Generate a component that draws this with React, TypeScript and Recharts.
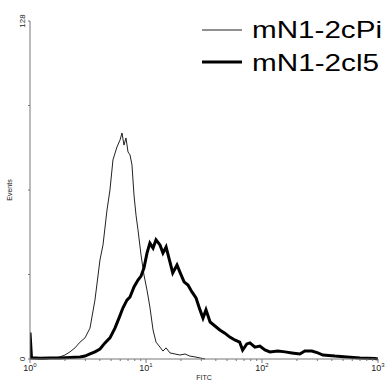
import React from 'react';
import { LineChart, Line, XAxis, YAxis } from 'recharts';

// FITC channel values and event counts
const fitcPi = [1, 1.35, 1.64, 1.81, 2.0, 2.21, 2.44, 2.7, 2.98, 3.29, 3.63, 4.01, 4.26, 4.61, 4.89, 5.19, 5.62, 5.97, 6.21, 6.46, 6.72, 7.0, 7.28, 7.57, 7.88, 8.2, 8.53, 9.06, 9.61, 10.2, 10.8, 11.5, 12.2, 13.2, 14.0, 14.9, 16.1, 17.8, 19.6, 21.7, 23.9, 26.4, 29.2, 32.3];
const countPi = [0, 0, 0.4, 0.8, 1.5, 2.7, 4.2, 6.4, 8.0, 11.7, 22.3, 37.5, 43.2, 56.4, 64, 75.4, 80.3, 82.9, 85.6, 81, 83.7, 78.4, 77.3, 73.5, 62.1, 54.5, 48.9, 39.4, 31.8, 26.1, 19.7, 11, 6.4, 4.5, 3.0, 4.2, 2.3, 1.9, 1.5, 1.9, 1.1, 0.8, 0.4, 0];

const fitcI5 = [1, 1.03, 1.22, 1.49, 1.81, 2.21, 2.7, 2.98, 3.29, 3.63, 4.01, 4.43, 4.89, 5.4, 5.85, 6.32, 6.85, 7.28, 7.88, 8.53, 9.06, 9.61, 10.2, 10.8, 11.5, 12.2, 13.2, 14.0, 14.9, 16.1, 17.0, 18.5, 19.6, 21.3, 23.0, 24.9, 27.0, 29.2, 31.0, 32.9, 35.7, 39.3, 43.3, 47.8, 52.8, 58.2, 64.2, 68.1, 74.0, 78.7, 86.9, 95.9, 106, 117, 137, 158, 181, 212, 234, 269, 303, 335, 425, 540, 699, 944, 1000];
const countI5 = [10, 0.5, 0.3, 0.4, 0.4, 0.6, 0.8, 1.1, 1.9, 2.7, 3.8, 6.1, 8.0, 11.7, 15.5, 19.3, 22.3, 23.5, 27.3, 29.9, 31.4, 34.5, 40.1, 43.9, 42.0, 45.1, 43.2, 40.1, 42.4, 36.7, 32.6, 35.6, 32.9, 29.2, 28.0, 25.4, 23.1, 18.6, 15.5, 18.6, 14.0, 12.5, 11.0, 9.8, 8.3, 7.2, 6.4, 3.4, 5.7, 6.1, 4.5, 4.9, 3.4, 2.7, 3.0, 2.7, 2.3, 1.9, 3.0, 3.0, 2.3, 1.5, 1.1, 0.8, 0.4, 0.2, 0];

const xTicks = [1, 2, 3, 4, 5, 6, 7, 8, 9, 10, 20, 30, 40, 50, 60, 70, 80, 90, 100, 200, 300, 400, 500, 600, 700, 800, 900, 1000];
const decades: Record<number, string> = { 1: '0', 10: '1', 100: '2', 1000: '3' };
const yTicks = [0, 32, 64, 96, 128];
const yLabels: Record<number, string> = { 0: '0', 128: '128' };

const seriesNames = ['mN1-2cPi', 'mN1-2cl5'];

const piData = fitcPi.map((x, i) => ({ x, y: countPi[i] }));
const i5Data = fitcI5.map((x, i) => ({ x, y: countI5[i] }));

const FONT = '"Liberation Sans", Arial, sans-serif';
const W = 386;
const H = 385;
const MARGIN = { top: 21, right: 8, bottom: 25, left: 29 };
const PLOT_LEFT = MARGIN.left + 1;
const PLOT_BOTTOM = H - MARGIN.bottom - 1;

function XTick(props: any) {
  const { payload } = props;
  const x = payload.coordinate;
  const y = PLOT_BOTTOM;
  const exp = decades[payload.value];
  return (
    <g>
      <line x1={x} x2={x} y1={y} y2={y + (exp ? 4 : 2)} stroke="#777" />
      {exp && (
        <text x={x} y={y + 12} textAnchor="middle" fontSize={9} fill="#222" fontFamily={FONT}>
          <tspan>10</tspan>
          <tspan dy={-4} fontSize={6}>{exp}</tspan>
        </text>
      )}
    </g>
  );
}

function YTick(props: any) {
  const { payload } = props;
  const y = payload.coordinate;
  const x = PLOT_LEFT;
  const lbl = yLabels[payload.value];
  return (
    <g>
      <line x1={x - 2} x2={x} y1={y} y2={y} stroke="#777" />
      {lbl && (
        <text x={x - 5} y={y} transform={`rotate(-90 ${x - 5} ${y})`} textAnchor="middle" fontSize={8} fill="#222" fontFamily={FONT}>
          {lbl}
        </text>
      )}
    </g>
  );
}

function LegendBox() {
  return (
    <svg width={186} height={80} style={{ position: 'absolute', left: 200, top: 0 }}>
      <line x1={2} x2={42} y1={30} y2={30} stroke="#222" strokeWidth={1} />
      <text x={52} y={38} fontSize={24} fontFamily={FONT} fill="#000" textLength={130} lengthAdjust="spacingAndGlyphs">{seriesNames[0]}</text>
      <line x1={2} x2={42} y1={62} y2={62} stroke="#000" strokeWidth={3} />
      <text x={52} y={71} fontSize={24} fontFamily={FONT} fill="#000" textLength={127} lengthAdjust="spacingAndGlyphs">{seriesNames[1]}</text>
    </svg>
  );
}

export default function App() {
  return (
    <div style={{ position: 'absolute', left: 0, top: 0, width: W, height: H, background: '#fff' }}>
      <LineChart width={W} height={H} margin={MARGIN}>
        <XAxis
          dataKey="x" type="number" scale="log" domain={[1, 1000]} ticks={xTicks}
          allowDataOverflow height={1} axisLine={{ stroke: '#777' }} tickLine={false}
          tick={<XTick />} interval={0}
          label={({ viewBox }: any) => (
            <text x={viewBox.x + viewBox.width / 2} y={PLOT_BOTTOM + 21} textAnchor="middle" fontSize={7} fill="#222" fontFamily={FONT}>FITC</text>
          )}
        />
        <YAxis
          type="number" domain={[0, 128]} ticks={yTicks} width={1}
          axisLine={{ stroke: '#777' }} tickLine={false}
          tick={<YTick />} interval={0}
          label={({ viewBox }: any) => {
            const cx = 12;
            const cy = viewBox.y + viewBox.height / 2;
            return (
              <text x={cx} y={cy} transform={`rotate(-90 ${cx} ${cy})`} textAnchor="middle" fontSize={7} fill="#222" fontFamily={FONT}>Events</text>
            );
          }}
        />
        <Line data={piData} dataKey="y" type="linear" stroke="#222" strokeWidth={1} dot={false} isAnimationActive={false} />
        <Line data={i5Data} dataKey="y" type="linear" stroke="#000" strokeWidth={3} dot={false} isAnimationActive={false} />
      </LineChart>
      <LegendBox />
    </div>
  );
}
